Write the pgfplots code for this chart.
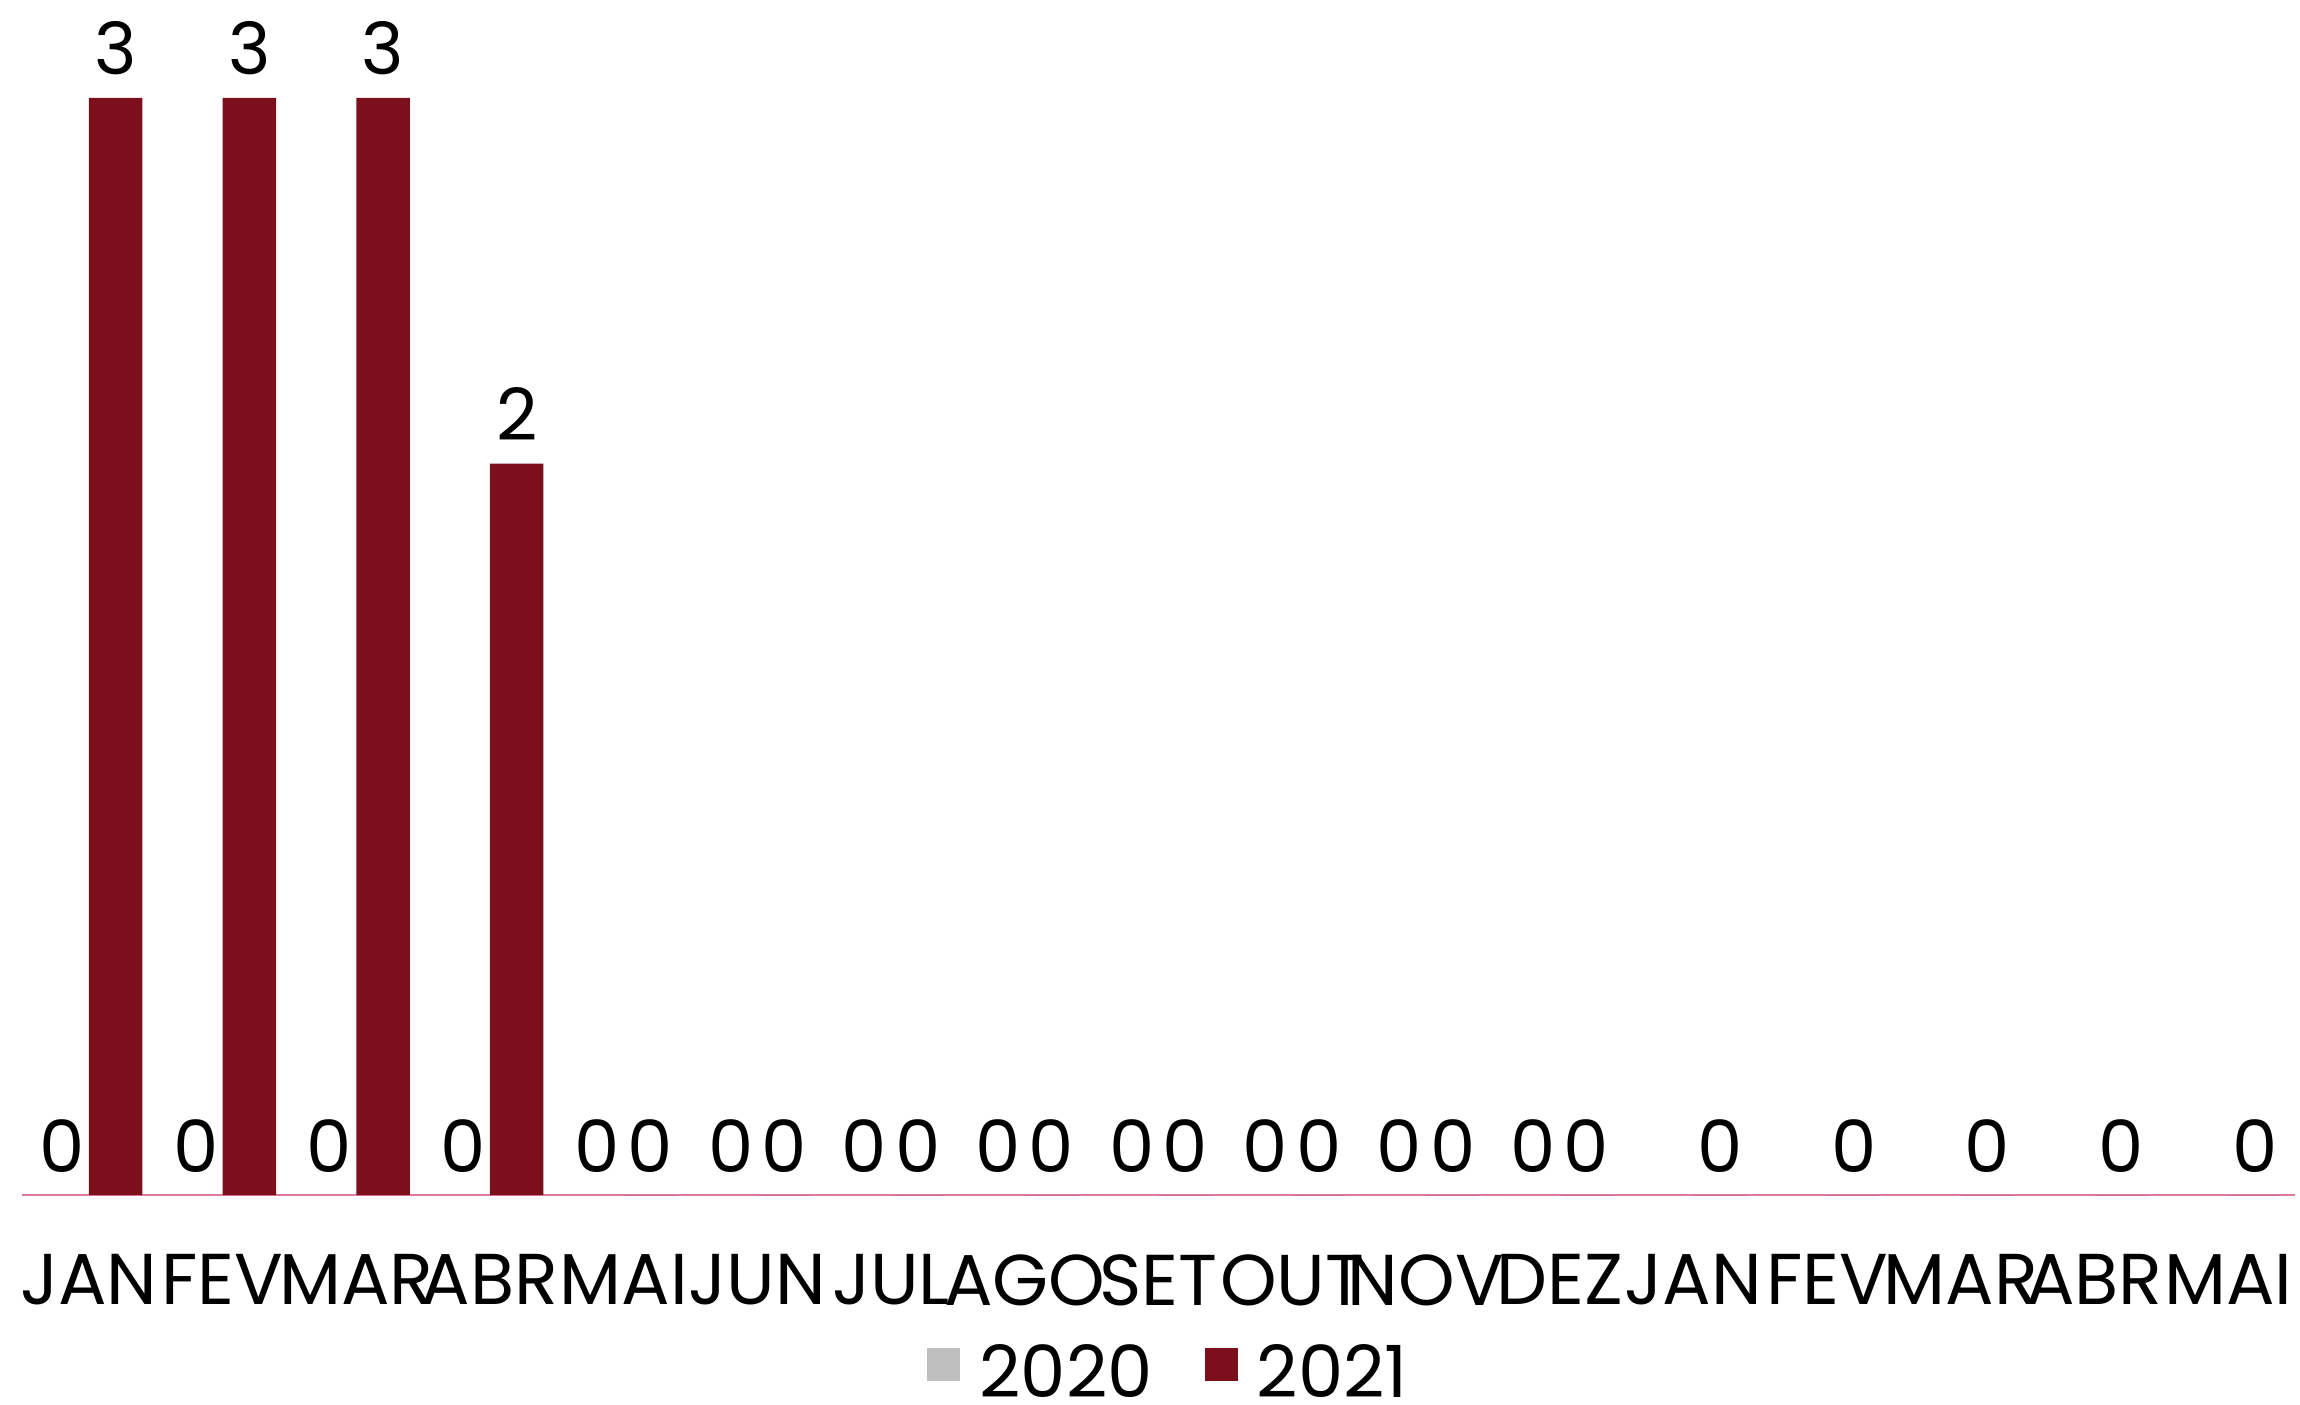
\documentclass[border=0pt]{standalone}
\usepackage{fontspec}
\setmainfont{Poppins}
\usepackage{pgfplots}
\pgfplotsset{compat=1.18}
\definecolor{g20}{HTML}{BFBFBF}
\definecolor{r21}{HTML}{7B0F1C}
\definecolor{pinkline}{HTML}{E07A9A}
\newcommand{\chf}{\fontsize{18pt}{21pt}\selectfont}
\begin{document}
\chf
\begin{tikzpicture}
\useasboundingbox (-5.5pt,-52.25pt) rectangle (569.5pt,298.75pt);
\begin{axis}[
  at={(0,0)}, anchor=south west,
  width=568.25pt, height=298.75pt, scale only axis,
  xmin=-0.5, xmax=16.5, ymin=0, ymax=3.268,
  axis y line=none, axis x line*=bottom,
  x axis line style={draw=pinkline, line width=0.6pt, -},
  xtick={0,...,16},
  xticklabels={JAN,FEV,MAR,ABR,MAI,JUN,JUL,AGO,SET,OUT,NOV,DEZ,JAN,FEV,MAR,ABR,MAI},
  major tick length=0pt,
  xticklabel style={font=\chf, inner sep=0pt, anchor=north, yshift=-14.7pt},
  /pgf/number format/assume math mode=true,
  nodes near coords,
  every node near coord/.append style={font=\chf, inner sep=0pt, anchor=south, yshift=5.5pt, text=black},
  legend columns=2,
  legend style={at={(0.504,-0.1699)}, anchor=south, draw=none, fill=none, inner sep=0pt,
    font=\chf, nodes={inner sep=0pt, text depth=0pt},
    /tikz/every odd column/.append style={column sep=4.75pt},
    /tikz/every even column/.append style={column sep=13pt}},
  legend image code/.code={\fill[#1] (0pt,-2.5pt) rectangle (8.25pt,5.75pt);},
  clip=false,
]
\addplot[ybar, bar width=0.4, bar shift=-0.2, fill=g20, draw=none,
  every node near coord/.append style={xshift=-6.685pt}]
  coordinates {(0,0)(1,0)(2,0)(3,0)(4,0)(5,0)(6,0)(7,0)(8,0)(9,0)(10,0)(11,0)};
\addplot[ybar, bar width=0.4, bar shift=0.2, fill=r21, draw=none,
  every node near coord/.append style={xshift=6.685pt}]
  coordinates {(0,3)(1,3)(2,3)(3,2)(4,0)(5,0)(6,0)(7,0)(8,0)(9,0)(10,0)(11,0)(12,0)(13,0)(14,0)(15,0)(16,0)};
\legend{2020,2021}
\end{axis}
\end{tikzpicture}
\end{document}
